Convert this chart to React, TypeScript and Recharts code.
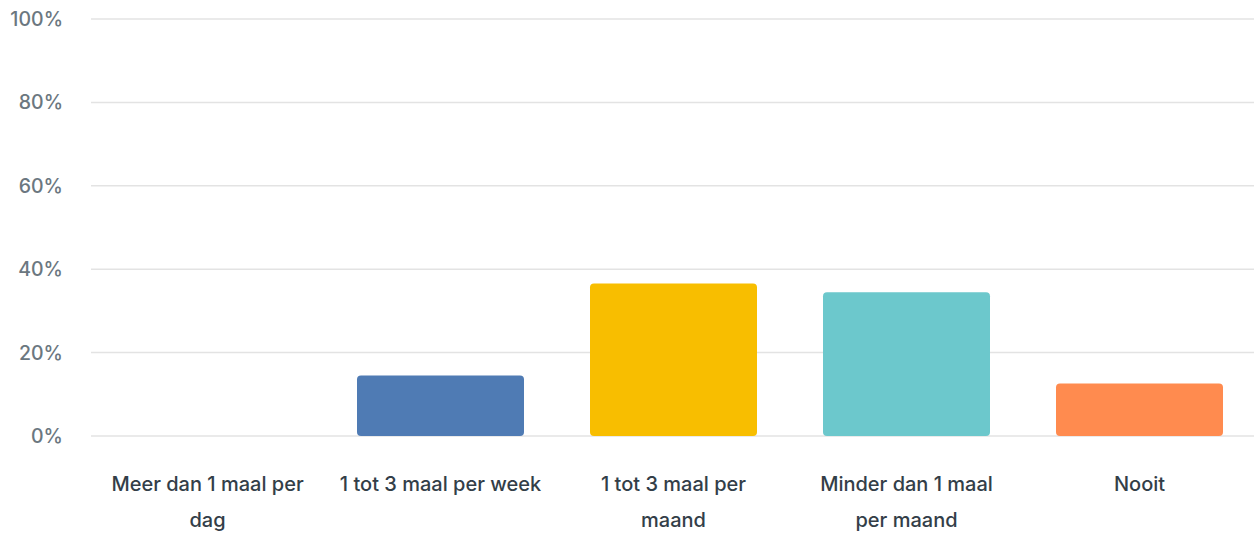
import { Bar, BarChart, CartesianGrid, Cell, XAxis, YAxis } from "recharts";

const CATEGORIES = [
  "Meer dan 1 maal per dag",
  "1 tot 3 maal per week",
  "1 tot 3 maal per maand",
  "Minder dan 1 maal per maand",
  "Nooit",
];
// how the axis labels wrap in the original
const LABEL_LINES = [
  ["Meer dan 1 maal per", "dag"],
  ["1 tot 3 maal per week"],
  ["1 tot 3 maal per", "maand"],
  ["Minder dan 1 maal", "per maand"],
  ["Nooit"],
];
const VALUES = [0, 14.5, 36.6, 34.5, 12.6];
const COLORS = ["#4f7bb4", "#4f7bb4", "#f8be00", "#6cc8cc", "#ff8b4f"];
const Y_TICKS = [0, 20, 40, 60, 80, 100];

const FONT = "Inter, 'Open Sans', sans-serif";

const data = CATEGORIES.map((name, i) => ({ name, value: VALUES[i] }));

function CategoryTick(props: any) {
  const { x, y, index } = props;
  const lines = LABEL_LINES[index] ?? [];
  return (
    <g transform={`translate(${x},${y})`}>
      {lines.map((l, i) => (
        <text
          key={i}
          x={0}
          y={46 + i * 36}
          textAnchor="middle"
          dominantBaseline="central"
          fontSize={20}
          fontWeight={500}
          fontFamily={FONT}
          fill="#333e48"
        >
          {l}
        </text>
      ))}
    </g>
  );
}

export default function App() {
  return (
    <div style={{ position: "absolute", left: 0, top: 0, width: 1254, height: 533, background: "#fff" }}>
      <BarChart
        width={1254}
        height={533}
        data={data}
        margin={{ top: 19, right: -2, bottom: 0, left: 0 }}
        barSize={167}
      >
        <CartesianGrid vertical={false} stroke="#e3e3e3" strokeWidth={1.5} />
        <XAxis
          dataKey="name"
          axisLine={false}
          tickLine={false}
          tickSize={0}
          height={97}
          interval={0}
          tick={<CategoryTick />}
        />
        <YAxis
          domain={[0, 100]}
          ticks={Y_TICKS}
          width={91}
          axisLine={false}
          tickLine={false}
          tickSize={0}
          tickMargin={28}
          tickFormatter={(v) => `${v}%`}
          tick={{ fontSize: 19.5, fontWeight: 500, fill: "#6b7780", fontFamily: FONT }}
        />
        <Bar dataKey="value" radius={[4, 4, 4, 4]} isAnimationActive={false}>
          {data.map((_, i) => (
            <Cell key={i} fill={COLORS[i]} />
          ))}
        </Bar>
      </BarChart>
    </div>
  );
}
